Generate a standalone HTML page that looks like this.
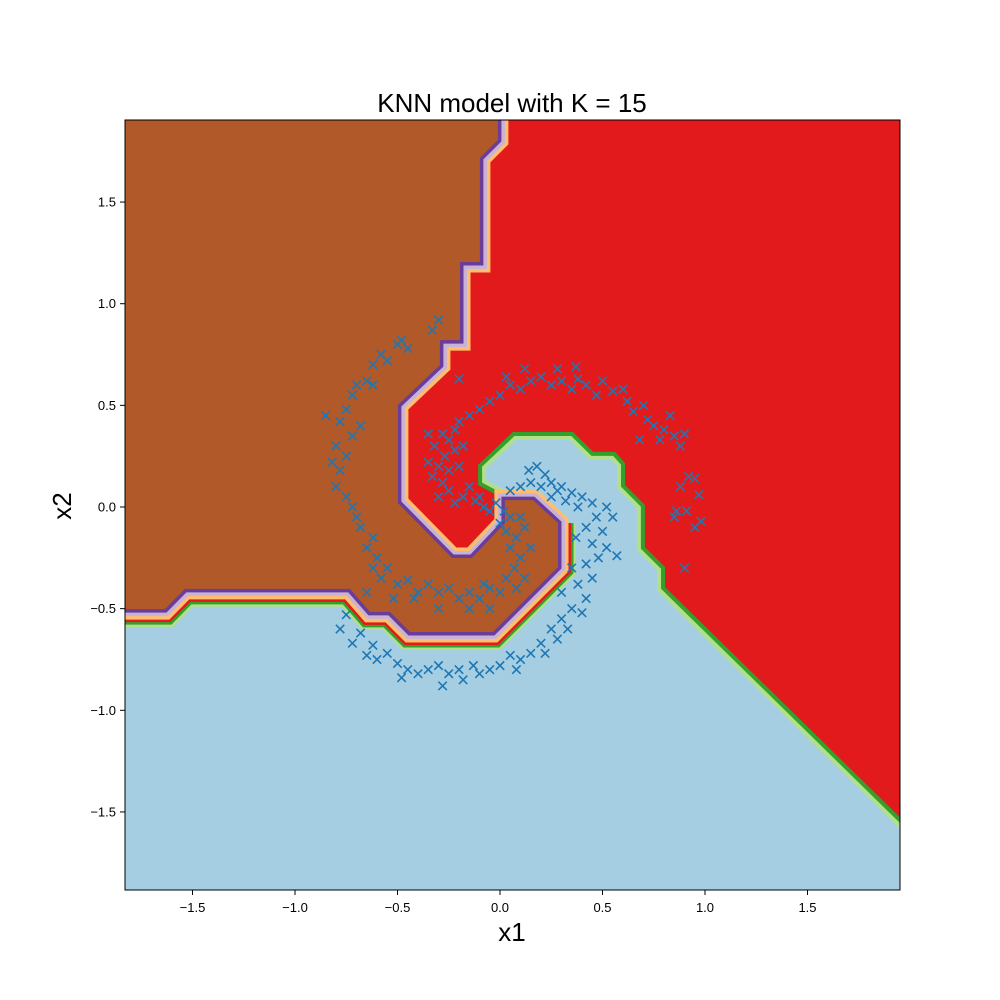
<!DOCTYPE html>
<html><head><meta charset="utf-8"><style>
html,body{margin:0;padding:0;background:#fff;}
svg{display:block;font-family:"Liberation Sans","DejaVu Sans",sans-serif;}
</style></head><body>
<svg id="chart" width="1000" height="1000" viewBox="0 0 1000 1000" xmlns="http://www.w3.org/2000/svg">
<defs><clipPath id="plotclip"><rect x="125" y="120" width="775" height="770"/></clipPath></defs>
<rect width="1000" height="1000" fill="#fff"/>
<g id="plot" clip-path="url(#plotclip)">
<rect x="125" y="120" width="775" height="770" fill="#a6cee3"/>
</g>
<g id="marks" clip-path="url(#plotclip)"></g>
<rect x="125" y="120" width="775" height="770" fill="none" stroke="#000" stroke-width="1"/>
<g id="axes"></g>
<text x="512" y="112" text-anchor="middle" font-size="26">KNN model with K = 15</text>
<text x="512" y="941" text-anchor="middle" font-size="26">x1</text>
<text x="0" y="0" transform="translate(71,506) rotate(-90)" text-anchor="middle" font-size="26">x2</text>
</svg>
<script>
const xTicks = [-1.5,-1.0,-0.5,0.0,0.5,1.0,1.5];
const yTicks = [-1.5,-1.0,-0.5,0.0,0.5,1.0,1.5];
const brownRegion = [[-2,2],[-0.01,2],[-0.01,1.805],[-0.098,1.717],[-0.098,1.205],[-0.195,1.205],[-0.195,0.821],[-0.293,0.821],[-0.293,0.698],[-0.498,0.502],[-0.498,0.020],[-0.234,-0.251],[-0.137,-0.251],[0.024,-0.079],[0.024,0.034],[0.161,0.034],[0.283,-0.079],[0.283,-0.295],[-0.034,-0.615],[-0.439,-0.615],[-0.537,-0.516],[-0.634,-0.516],[-0.732,-0.403],[-1.537,-0.403],[-1.634,-0.502],[-2,-0.502]];
const brownBlueEdge = [[-2,-0.502],[-1.634,-0.502],[-1.537,-0.403],[-0.732,-0.403],[-0.634,-0.516],[-0.537,-0.516],[-0.439,-0.615],[-0.034,-0.615],[0.283,-0.295],[0.283,-0.079]];
const redRegion = [[-0.634,2.0],[2.44,2.0],[2.44,-2.01],[0.805,-0.394],[0.805,-0.295],[0.707,-0.197],[0.707,0.010],[0.610,0.108],[0.610,0.216],[0.561,0.271],[0.454,0.271],[0.356,0.369],[0.063,0.369],[-0.107,0.207],[-0.107,0.108],[-0.034,0.069],[0.024,0.044],[0.049,0.044],[0.049,-0.261],[-0.634,-0.261]];
const pointsX = [];
const pointsY = [];
const armRed = [[-0.02,0.02],[-0.08,0.0],[-0.12,0.03],[-0.18,0.05],[-0.22,0.02],[-0.25,0.08],[-0.3,0.05],[-0.28,0.12],[-0.33,0.15],[-0.3,0.2],[-0.35,0.22],[-0.27,0.25],[-0.32,0.3],[-0.25,0.33],[-0.28,0.36],[-0.22,0.38],[-0.2,0.42],[-0.15,0.45],[-0.1,0.48],[-0.18,0.3],[-0.2,0.2],[-0.15,0.1],[-0.05,0.52],[0.0,0.55],[0.05,0.6],[0.1,0.58],[0.15,0.62],[0.2,0.64],[0.25,0.6],[0.3,0.62],[0.35,0.58],[0.38,0.63],[0.42,0.6],[0.47,0.55],[0.5,0.62],[0.55,0.57],[0.6,0.58],[0.62,0.52],[0.65,0.47],[0.7,0.5],[0.72,0.43],[0.75,0.4],[0.8,0.38],[0.78,0.33],[0.85,0.35],[0.88,0.3],[0.9,0.36],[0.83,0.45],[0.68,0.33],[0.92,0.15],[0.95,0.14],[0.88,0.1],[0.97,0.06],[0.91,-0.02],[0.95,-0.1],[0.98,-0.07],[0.86,-0.02],[0.9,-0.3],[0.85,-0.05],[0.03,0.64],[-0.2,0.63],[-0.35,0.36],[0.12,0.68],[0.28,0.68],[0.37,0.69],[-0.22,0.28],[-0.25,0.18],[-0.1,0.05],[-0.05,-0.02]];
const armBlue = [[0.05,0.08],[0.1,0.1],[0.15,0.12],[0.2,0.1],[0.22,0.16],[0.25,0.12],[0.18,0.2],[0.28,0.08],[0.3,0.1],[0.35,0.07],[0.4,0.05],[0.38,0.0],[0.45,0.02],[0.47,-0.05],[0.5,-0.12],[0.42,-0.1],[0.45,-0.18],[0.52,-0.2],[0.48,-0.25],[0.42,-0.28],[0.45,-0.35],[0.38,-0.38],[0.42,-0.45],[0.35,-0.5],[0.4,-0.52],[0.3,-0.55],[0.33,-0.6],[0.25,-0.6],[0.28,-0.65],[0.2,-0.67],[0.22,-0.72],[0.15,-0.72],[0.1,-0.75],[0.05,-0.73],[0.08,-0.8],[0.0,-0.78],[-0.05,-0.8],[-0.1,-0.82],[-0.13,-0.78],[-0.18,-0.85],[-0.2,-0.8],[-0.25,-0.82],[-0.3,-0.78],[-0.28,-0.88],[-0.35,-0.8],[-0.4,-0.82],[-0.45,-0.8],[-0.5,-0.77],[-0.48,-0.84],[-0.55,-0.72],[-0.6,-0.75],[-0.62,-0.68],[-0.65,-0.73],[-0.68,-0.62],[-0.72,-0.67],[-0.78,-0.6],[-0.75,-0.53],[0.35,-0.3],[0.3,-0.42],[0.52,0.0],[0.57,-0.24],[0.55,-0.05],[0.32,0.03],[0.14,0.18],[0.25,0.05],[0.37,-0.15]];
const armBrown = [[0.02,-0.02],[0.05,-0.05],[0.03,-0.12],[0.08,-0.15],[0.05,-0.2],[0.1,-0.25],[0.07,-0.3],[0.03,-0.35],[0.08,-0.4],[0.0,-0.42],[-0.05,-0.4],[-0.1,-0.45],[-0.15,-0.42],[-0.2,-0.45],[-0.25,-0.4],[-0.3,-0.42],[-0.35,-0.38],[-0.4,-0.42],[-0.45,-0.36],[-0.5,-0.38],[-0.55,-0.3],[-0.58,-0.35],[-0.6,-0.25],[-0.65,-0.2],[-0.62,-0.15],[-0.68,-0.1],[-0.7,-0.05],[-0.72,0.0],[-0.75,0.05],[-0.8,0.1],[-0.78,0.18],[-0.82,0.22],[-0.75,0.25],[-0.8,0.3],[-0.72,0.35],[-0.78,0.42],[-0.75,0.48],[-0.72,0.55],[-0.7,0.6],[-0.65,0.62],[-0.62,0.7],[-0.58,0.75],[-0.55,0.72],[-0.5,0.8],[-0.48,0.82],[-0.45,0.78],[-0.3,0.92],[-0.33,0.87],[-0.85,0.45],[0.12,-0.1],[0.15,-0.2],[0.12,-0.35],[-0.05,-0.5],[-0.15,-0.5],[-0.3,-0.5],[-0.52,-0.45],[-0.65,-0.42],[-0.62,-0.3],[-0.68,0.4],[-0.62,0.6],[0.0,-0.08],[0.1,-0.05],[-0.08,-0.38],[-0.42,-0.45]];
const NS = "http://www.w3.org/2000/svg";
const X0 = 500, XS = 205, Y0 = 507, YS = 203.3;
function sx(v){ return X0 + v*XS; }
function sy(v){ return Y0 - v*YS; }
function pts(arr){ return arr.map(p => sx(p[0]).toFixed(1)+","+sy(p[1]).toFixed(1)).join(" "); }
function mk(tag, attrs, parent){
  const el = document.createElementNS(NS, tag);
  for (const k in attrs) el.setAttribute(k, attrs[k]);
  parent.appendChild(el);
  return el;
}
const plot = document.getElementById("plot");
// red region with green / light-green fringe
let e;
e = mk("polygon", {points: pts(redRegion), fill:"#b2df8a", stroke:"#b2df8a", "stroke-width":16, "stroke-linejoin":"miter"}, plot);


e = mk("polygon", {points: pts(redRegion), fill:"#33a02c", stroke:"#33a02c", "stroke-width":8, "stroke-linejoin":"miter"}, plot);


e = mk("polygon", {points: pts(redRegion), fill:"#e31a1c"}, plot);


// brown lower edge extra bands
const bandsLow = [["#b2df8a",36],["#33a02c",31],["#e31a1c",26]];
bandsLow.forEach(b => {
  const l = mk("polyline", {points: pts(brownBlueEdge), fill:"none", stroke:b[0], "stroke-width":b[1], "stroke-linejoin":"miter"}, plot);
  
  
});
const bandsBrown = [["#fdbf6f",21],["#cab2d6",14],["#6a3d9a",7]];
bandsBrown.forEach(b => {
  const l = mk("polygon", {points: pts(brownRegion), fill:b[0], stroke:b[0], "stroke-width":b[1], "stroke-linejoin":"miter"}, plot);
  
  
});
e = mk("polygon", {points: pts(brownRegion), fill:"#b15928"}, plot);


// scatter
[armRed, armBlue, armBrown].forEach(a => a.forEach(p => { pointsX.push(p[0]); pointsY.push(p[1]); }));
const marks = document.getElementById("marks");
const r = 4.2;
for (let i = 0; i < pointsX.length; i++) {
  const cx = sx(pointsX[i]), cy = sy(pointsY[i]);
  const m = mk("path", {d:`M${cx-r},${cy-r}L${cx+r},${cy+r}M${cx-r},${cy+r}L${cx+r},${cy-r}`, stroke:"#1f77b4", "stroke-width":1.6, fill:"none"}, marks);
  
  
}
// axes
const axes = document.getElementById("axes");
function fmt(v){ return (v<0?"\u2212":"") + Math.abs(v).toFixed(1); }
xTicks.forEach(v => {
  const x = sx(v);
  const t = mk("line", {x1:x, y1:890, x2:x, y2:895, stroke:"#000", "stroke-width":1}, axes);
  
  
  const l = mk("text", {x:x, y:912, "text-anchor":"middle", "font-size":13}, axes);
  l.textContent = fmt(v);
  
  
});
yTicks.forEach(v => {
  const y = sy(v);
  const t = mk("line", {x1:120, y1:y, x2:125, y2:y, stroke:"#000", "stroke-width":1}, axes);
  
  
  const l = mk("text", {x:116, y:y+4.5, "text-anchor":"end", "font-size":13}, axes);
  l.textContent = fmt(v);
  
  
});
</script>
</body></html>
